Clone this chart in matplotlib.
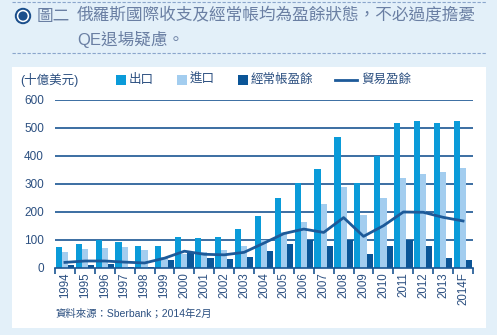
import matplotlib
matplotlib.use("Agg")
import matplotlib.pyplot as plt
import numpy as np
from matplotlib.patches import Rectangle, Ellipse
from matplotlib.lines import Line2D

plt.rcParams['font.family'] = ['Liberation Sans', 'Noto Sans CJK TC', 'DejaVu Sans']

years = ["1994", "1995", "1996", "1997", "1998", "1999", "2000", "2001", "2002",
         "2003", "2004", "2005", "2006", "2007", "2008", "2009", "2010", "2011",
         "2012", "2013", "2014F"]
exports = [74, 86, 99, 92, 78, 78, 110, 106, 110, 138, 184, 250, 305, 355, 469,
           305, 399, 519, 526, 519, 526]
imports = [56, 67, 71, 74, 63, 40, 49, 56, 63, 78, 100, 127, 166, 227, 291,
           191, 249, 323, 337, 344, 358]
current_account = [10, 10, 13, 3, 3, 28, 56, 35, 32, 38, 59, 84, 99, 78, 99,
                   49, 78, 99, 78, 35, 28]
trade_balance = [20, 25, 25, 21, 18, 35, 60, 49, 47, 56, 89, 123, 139, 127, 180,
                 113, 151, 200, 199, 181, 168]
y_ticks = [0, 100, 200, 300, 400, 500, 600]

C_BG = "#e3f0f9"
C_EXP = "#0a9bd9"
C_IMP = "#a3cdef"
C_CA = "#0b5597"
C_LINE = "#1d5a99"
C_GRID = "#1a5592"
C_TXT = "#2b4f80"
C_TITLE = "#6a7fa3"

W, H = 497, 335
fig = plt.figure(figsize=(W / 100, H / 100), dpi=100, facecolor=C_BG)

def fx(px):
    return px / W

def fy(py):
    return 1 - py / H

# white chart panel
fig.patches.append(Rectangle((fx(12), fy(328)), fx(486) - fx(12), fy(67) - fy(328),
                             transform=fig.transFigure, facecolor="white",
                             edgecolor="none", zorder=-5))

# dashed header rules
for yy in (2, 53):
    fig.add_artist(Line2D([fx(12), fx(486)], [fy(yy), fy(yy)], transform=fig.transFigure,
                          color="#8aa6cc", lw=0.8, ls=(0, (3, 1.5))))

# header icon: ring with dot
for r, c in ((8.2, "#1b4f8c"), (6.2, "white"), (4.6, "#1b4f8c")):
    fig.add_artist(Ellipse((fx(23), fy(16)), 2 * r / W, 2 * r / H,
                           transform=fig.transFigure, facecolor=c, edgecolor="none"))
fig.text(fx(37), fy(16), "圖二", fontsize=12, color=C_TITLE, va="center", ha="left",
         family=['Noto Sans CJK TC'])
fig.text(fx(77), fy(16), "俄羅斯國際收支及經常帳均為盈餘狀態，不必過度擔憂", fontsize=12,
         color=C_TITLE, va="center", ha="left", family=['Noto Sans CJK TC'])
fig.text(fx(77), fy(40), "QE退場疑慮。", fontsize=12, color=C_TITLE, va="center",
         ha="left", family=['Liberation Sans', 'Noto Sans CJK TC'])

ax = fig.add_axes([fx(55), fy(268), fx(473) - fx(55), fy(100) - fy(268)])
ax.set_facecolor("none")
ax.set_zorder(2)

x = np.arange(len(years))
bw = 0.31
ax.bar(x - bw, exports, bw, color=C_EXP, zorder=3, label="出口")
ax.bar(x, imports, bw, color=C_IMP, zorder=3, label="進口")
ax.bar(x + bw, current_account, bw, color=C_CA, zorder=3, label="經常帳盈餘")
ax.plot(x, trade_balance, color=C_LINE, lw=2, zorder=4, label="貿易盈餘")

ax.set_xlim(-0.5, len(years) - 0.5)
ax.set_ylim(0, 600)
ax.set_yticks(y_ticks)
for v in y_ticks[1:]:
    ax.axhline(v, color=C_GRID, lw=1.2, zorder=1)

for s in ("top", "right", "left"):
    ax.spines[s].set_visible(False)
ax.spines["bottom"].set_color(C_GRID)
ax.spines["bottom"].set_linewidth(1.2)
ax.spines["bottom"].set_zorder(5)

ax.set_xticks(np.arange(-0.5, len(years) + 0.5, 1.0))
ax.set_xticklabels([])
ax.set_xticks(x, minor=True)
ax.set_xticklabels(years, minor=True, rotation=90, fontsize=8.3, color=C_TXT)
ax.tick_params(axis="x", which="major", length=4, width=1.2, color=C_GRID, direction="out")
ax.tick_params(axis="x", which="minor", length=0, pad=3)
ax.tick_params(axis="y", length=0, labelsize=8.5, labelcolor=C_TXT, pad=8)

# legend row
fig.text(fx(20), fy(80), "(十億美元)", fontsize=9, color=C_TXT, va="center", ha="left")
items = [(116, "出口", C_EXP), (177, "進口", C_IMP), (238, "經常帳盈餘", C_CA)]
for px, lab, col in items:
    fig.patches.append(Rectangle((fx(px), fy(85)), fx(10), fy(75) - fy(85),
                                 transform=fig.transFigure, facecolor=col, edgecolor="none"))
    fig.text(fx(px + 13), fy(80), lab, fontsize=9, color=C_TXT, va="center", ha="left")
fig.add_artist(Line2D([fx(335), fx(357)], [fy(80), fy(80)], transform=fig.transFigure,
                      color=C_LINE, lw=2))
fig.text(fx(361), fy(80), "貿易盈餘", fontsize=9, color=C_TXT, va="center", ha="left")

fig.text(fx(55), fy(314), "資料來源：Sberbank；2014年2月", fontsize=7.5, color=C_TXT,
         va="center", ha="left")

fig.savefig("out.png", dpi=100, facecolor=C_BG)
